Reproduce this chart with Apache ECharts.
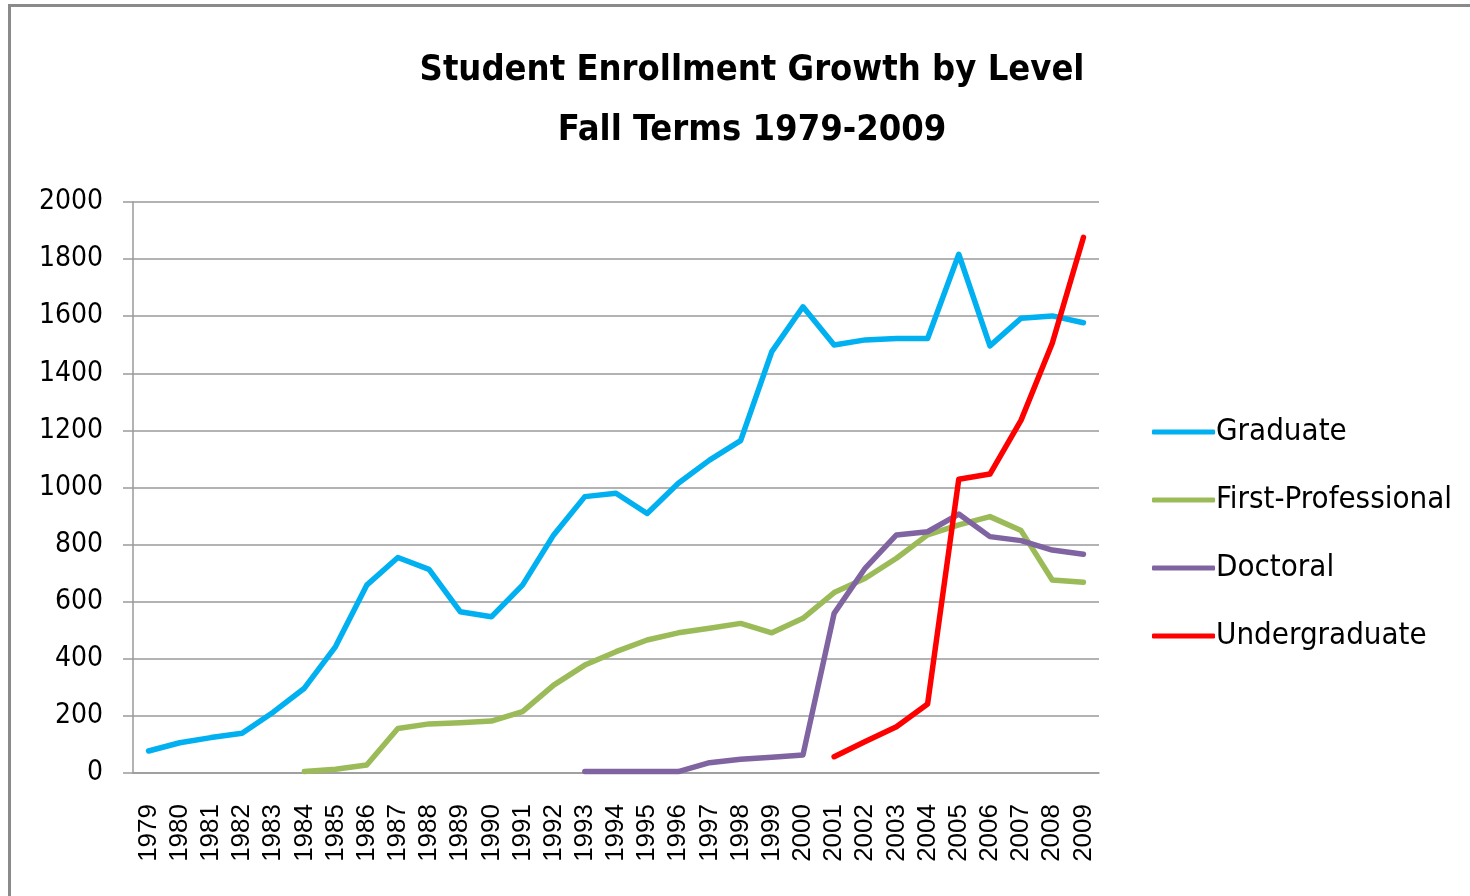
<!DOCTYPE html>
<html>
<head>
<meta charset="utf-8">
<script src="https://cdn.jsdelivr.net/npm/echarts@6/dist/echarts.min.js"></script>
<style>
html,body{margin:0;padding:0;background:#fff;}
#chart{width:1470px;height:896px;}
</style>
</head>
<body>
<div id="chart"></div>
<script>
const years = ['1979','1980','1981','1982','1983','1984','1985','1986','1987','1988','1989','1990','1991','1992','1993','1994','1995','1996','1997','1998','1999','2000','2001','2002','2003','2004','2005','2006','2007','2008','2009'];
const graduate = [77,106,124,139,213,297,443,658,755,713,565,547,658,834,968,980,909,1015,1096,1164,1476,1633,1499,1517,1522,1522,1817,1496,1593,1601,1577];
const firstProfessional = [null,null,null,null,null,5,13,28,156,172,176,182,215,308,378,425,466,491,507,524,491,542,632,682,752,834,869,898,849,676,668];
const doctoral = [null,null,null,null,null,null,null,null,null,null,null,null,null,null,5,5,5,5,36,48,55,63,559,718,834,845,907,828,814,781,766];
const undergraduate = [null,null,null,null,null,null,null,null,null,null,null,null,null,null,null,null,null,null,null,null,null,null,57,110,162,242,1029,1047,1236,1505,1876];
const yTicks = {min:0, max:2000, interval:200};

const narrow = '"Liberation Sans Narrow","DejaVu Sans Condensed",sans-serif';
const chart = echarts.init(document.getElementById('chart'));
function mk(name, data, color){
  return {name:name, type:'line', data:data, showSymbol:false, symbol:'none',
    lineStyle:{color:color, width:5.5, cap:'round', join:'round'}, itemStyle:{color:color},
    connectNulls:false, animation:false, z: 3};
}
chart.setOption({
  animation:false,
  backgroundColor:'#fff',
  graphic:[{type:'rect', shape:{x:9.5, y:5.5, width:1480, height:900}, style:{fill:'none', stroke:'#8a8a8a', lineWidth:3}, silent:true}],
  title:{text:'Student Enrollment Growth by Level\nFall Terms 1979-2009', left:747, top:36, textAlign:'center',
    textStyle:{fontFamily:narrow, fontWeight:'bold', fontSize:36, lineHeight:60, color:'#000'}},
  grid:{left:133, right:371, top:202, bottom:123},
  legend:{orient:'vertical', left:1147, top:409, itemWidth:63, itemHeight:5, itemGap:32, icon:'roundRect',
    data:['Graduate','First-Professional','Doctoral','Undergraduate'],
    textStyle:{fontFamily:narrow, fontSize:31, color:'#000', padding:[0,0,0,-4], lineHeight:36}},
  xAxis:{type:'category', data:years, boundaryGap:true,
    axisLine:{lineStyle:{color:'#9a9a9a', width:1.5}},
    axisTick:{alignWithLabel:false, length:9, lineStyle:{color:'#9a9a9a', width:1.5}},
    axisLabel:{rotate:90, interval:0, margin:31, fontFamily:'"Liberation Sans",Arial,sans-serif', fontSize:26, color:'#000'}},
  yAxis:{type:'value', min:yTicks.min, max:yTicks.max, interval:yTicks.interval,
    axisLine:{show:true, lineStyle:{color:'#9a9a9a', width:1.5}},
    axisTick:{show:true, length:10, lineStyle:{color:'#9a9a9a', width:1.5}},
    splitLine:{lineStyle:{color:'#9a9a9a', width:1.5}},
    axisLabel:{margin:30, fontFamily:narrow, fontSize:28, color:'#000', formatter:function(v){return String(v);}}},
  series:[
    mk('Graduate', graduate, '#00B0F0'),
    mk('First-Professional', firstProfessional, '#9BBB59'),
    mk('Doctoral', doctoral, '#8064A2'),
    mk('Undergraduate', undergraduate, '#FF0000')
  ]
});
</script>
</body>
</html>
